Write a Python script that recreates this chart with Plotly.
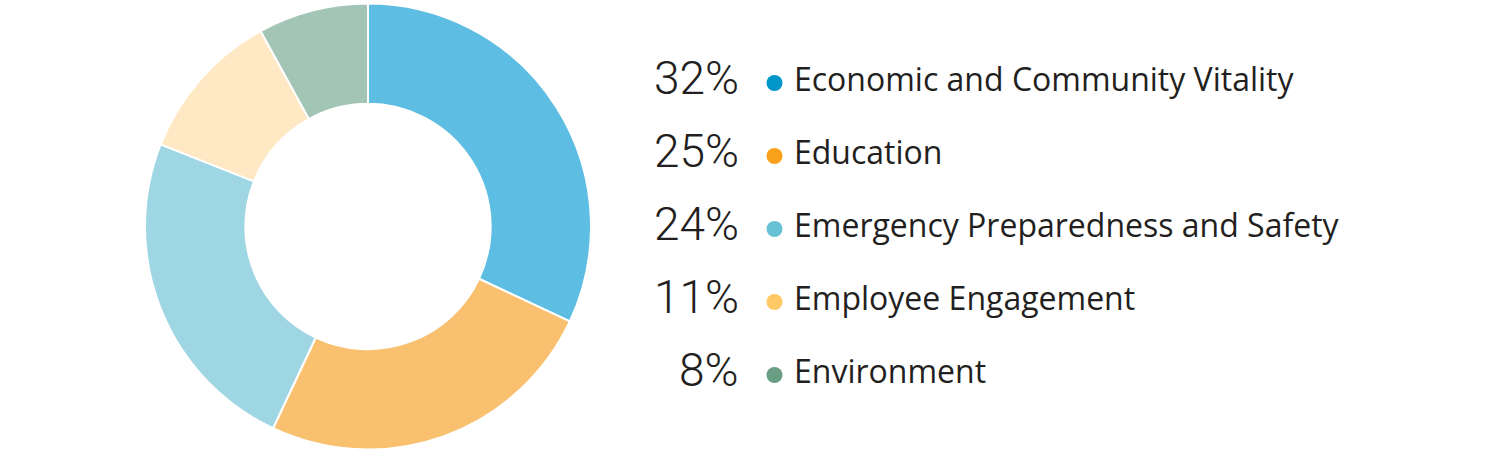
import plotly.graph_objects as go

# --- data ---
categories = [
    "Economic and Community Vitality",
    "Education",
    "Emergency Preparedness and Safety",
    "Employee Engagement",
    "Environment",
]
shares = [32, 25, 24, 11, 8]
pct_labels = ["32%", "25%", "24%", "11%", "8%"]

# slice fills (mid tone of the original gradients) and legend dot colours
slice_colors = ["#5dbde2", "#f9c070", "#9fd6e4", "#ffe8c4", "#a3c5b5"]
dot_colors = ["#0096c9", "#f9a11b", "#67c2d6", "#ffc966", "#6a9e84"]

PCT_FONT = "Roboto, 'Open Sans', Arial, sans-serif"
LABEL_FONT = "'Open Sans', Roboto, Arial, sans-serif"
TEXT_COLOR = "#231f20"

W, H = 1500, 464
cx, cy, r = 368, 226.5, 223   # donut centre / radius in px

fig = go.Figure()

fig.add_trace(go.Pie(
    labels=categories,
    values=shares,
    hole=0.55,
    sort=False,
    direction="clockwise",
    rotation=0,
    marker=dict(colors=slice_colors, line=dict(color="white", width=2)),
    textinfo="none",
    hoverinfo="label+percent",
    showlegend=False,
    domain=dict(x=[(cx - r) / W, (cx + r) / W],
                y=[1 - (cy + r) / H, 1 - (cy - r) / H]),
))

# legend column: rows placed by index on a hidden axis
rows = list(range(len(categories)))
row_px = 73      # spacing between rows
first_px = 83    # centre of first dot from top
fig.add_trace(go.Scatter(
    x=[774.5] * len(rows), y=rows,
    mode="markers",
    marker=dict(size=16, color=dot_colors, line=dict(width=0)),
    hoverinfo="skip", showlegend=False,
))

for i, (pct, cat) in enumerate(zip(pct_labels, categories)):
    fig.add_annotation(x=741, y=i - 0.07, xref="x", yref="y", text=pct,
                       showarrow=False, xanchor="right", yanchor="middle",
                       font=dict(family=PCT_FONT, size=46, color=TEXT_COLOR, weight=300))
    fig.add_annotation(x=792, y=i - 0.06, xref="x", yref="y", text=cat,
                       showarrow=False, xanchor="left", yanchor="middle",
                       font=dict(family=LABEL_FONT, size=32, color=TEXT_COLOR))

fig.update_layout(
    width=W, height=H,
    margin=dict(l=0, r=0, t=0, b=0),
    paper_bgcolor="white",
    plot_bgcolor="rgba(0,0,0,0)",
    xaxis=dict(range=[0, W], visible=False, fixedrange=True),
    yaxis=dict(range=[(H - first_px) / row_px, -first_px / row_px],
               visible=False, fixedrange=True),
)

# page has a default 8px body margin; drop it so the figure sits at (0, 0)
fig.write_html("out.html", config={"displayModeBar": False},
               post_script="document.body.style.margin='0';")
